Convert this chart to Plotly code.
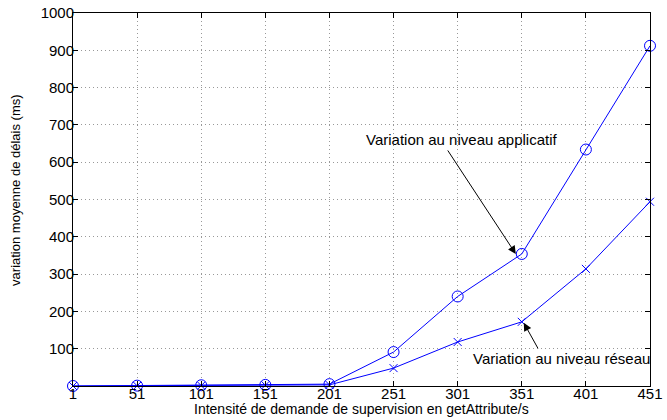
import plotly.graph_objects as go

x_vals = [1, 51, 101, 151, 201, 251, 301, 351, 401, 451]
applicatif = [0, 1, 2, 3, 5, 91, 240, 354, 634, 912]
reseau = [0, 0.5, 1, 2, 3, 48, 118, 172, 314, 494]
x_ticks = [1, 51, 101, 151, 201, 251, 301, 351, 401, 451]
y_ticks = [100, 200, 300, 400, 500, 600, 700, 800, 900, 1000]

FONT = "Liberation Sans, Arial, sans-serif"
blue = "rgb(0,0,255)"

fig = go.Figure()
fig.add_trace(go.Scatter(x=x_vals, y=applicatif, mode="lines+markers",
                         line=dict(color=blue, width=1),
                         marker=dict(symbol="circle-open", size=11, color=blue, line=dict(width=1)),
                         cliponaxis=False, showlegend=False))
fig.add_trace(go.Scatter(x=x_vals, y=reseau, mode="lines+markers",
                         line=dict(color=blue, width=1),
                         marker=dict(symbol="x-thin-open", size=8, color=blue, line=dict(width=1, color=blue)),
                         cliponaxis=False, showlegend=False))

axis_common = dict(showline=True, linecolor="black", linewidth=1, mirror="ticks",
                   ticks="inside", ticklen=5, tickcolor="black", automargin=False,
                   showgrid=True, gridcolor="#999999", griddash="1px,3px", gridwidth=1,
                   zeroline=False, tickfont=dict(family=FONT, size=15, color="black"))

fig.update_xaxes(range=[1, 451], tickvals=x_ticks, ticktext=[str(v) for v in x_ticks],
                 ticklabelstandoff=-6, **axis_common)
fig.update_yaxes(range=[0, 1000], tickvals=y_ticks, ticktext=[str(v) for v in y_ticks],
                 ticklabelstandoff=-5, **axis_common)

# axis titles as annotations (placed like the original)
fig.add_annotation(x=0.5, y=0, xref="paper", yref="paper", yanchor="middle",
                   yshift=-23, showarrow=False,
                   text="Intensité de demande de supervision en getAttribute/s",
                   font=dict(family=FONT, size=14, color="black"))
fig.add_annotation(x=0, y=0.523, xref="paper", yref="paper", xanchor="center",
                   xshift=-57, showarrow=False, textangle=-90,
                   text="variation moyenne de délais (ms)",
                   font=dict(family=FONT, size=13, color="black"))

fig.add_annotation(x=351, y=applicatif[7], xref="x", yref="y", text="", showarrow=True,
                   arrowhead=2, arrowsize=1.6, arrowwidth=1, arrowcolor="black",
                   ax=-69, ay=-105, xshift=-6)
fig.add_annotation(x=304, y=662, xref="x", yref="y", text="Variation au niveau applicatif",
                   showarrow=False, font=dict(family=FONT, size=15, color="black"))
fig.add_annotation(x=351, y=reseau[7], xref="x", yref="y", text="", showarrow=True,
                   arrowhead=2, arrowsize=1.6, arrowwidth=1, arrowcolor="black",
                   ax=15, ay=27, xshift=2, yshift=-1)
fig.add_annotation(x=382, y=75, xref="x", yref="y", text="Variation au niveau réseau",
                   showarrow=False, font=dict(family=FONT, size=15, color="black"))

fig.update_layout(width=667, height=420, plot_bgcolor="white", paper_bgcolor="white",
                  margin=dict(l=73, r=17, t=13, b=34),
                  font=dict(family=FONT, color="black"))

fig.write_html("out.html", config={"displayModeBar": False},
               post_script="document.body.style.margin='0px';document.body.style.overflow='hidden';")
